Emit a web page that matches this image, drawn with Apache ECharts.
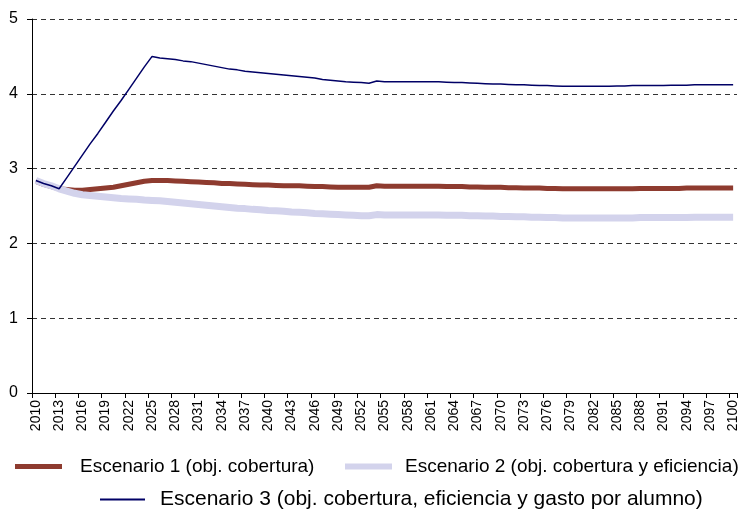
<!DOCTYPE html>
<html><head><meta charset="utf-8">
<script src="https://cdn.jsdelivr.net/npm/echarts@6/dist/echarts.min.js"></script>
<style>html,body{margin:0;padding:0;background:#fff}#c{width:741px;height:510px}</style>
</head><body><div id="c"></div>
<script>
var years = [];
for (var y = 2010; y <= 2100; y++) years.push(String(y));

var seriesNames = [
  'Escenario 1 (obj. cobertura)',
  'Escenario 2 (obj. cobertura y eficiencia)',
  'Escenario 3 (obj. cobertura, eficiencia y gasto por alumno)'
];

var esc1 = [
  2.83,2.79,2.76,2.73,2.72,2.71,2.71,2.72,2.73,2.74,
  2.75,2.77,2.79,2.81,2.83,2.84,2.84,2.84,2.835,2.83,
  2.825,2.82,2.815,2.81,2.80,2.80,2.795,2.79,2.785,2.78,
  2.78,2.775,2.77,2.77,2.77,2.765,2.76,2.76,2.755,2.75,
  2.75,2.75,2.75,2.75,2.77,2.765,2.765,2.765,2.765,2.765,
  2.765,2.765,2.765,2.76,2.76,2.76,2.755,2.755,2.75,2.75,
  2.75,2.745,2.745,2.74,2.74,2.74,2.735,2.735,2.73,2.73,
  2.73,2.73,2.73,2.73,2.73,2.73,2.73,2.73,2.735,2.735,
  2.735,2.735,2.735,2.735,2.74,2.74,2.74,2.74,2.74,2.74,
  2.74
];

var esc2 = [
  2.84,2.80,2.77,2.73,2.70,2.67,2.65,2.64,2.63,2.62,
  2.61,2.60,2.595,2.59,2.58,2.575,2.57,2.56,2.55,2.54,
  2.53,2.52,2.51,2.50,2.49,2.48,2.47,2.465,2.455,2.45,
  2.44,2.435,2.43,2.42,2.415,2.41,2.40,2.395,2.39,2.385,
  2.38,2.375,2.37,2.37,2.385,2.38,2.38,2.38,2.38,2.38,
  2.38,2.38,2.38,2.375,2.375,2.375,2.37,2.37,2.365,2.365,
  2.36,2.36,2.355,2.355,2.35,2.35,2.345,2.345,2.34,2.34,
  2.34,2.34,2.34,2.34,2.34,2.34,2.34,2.34,2.345,2.345,
  2.345,2.345,2.345,2.345,2.345,2.35,2.35,2.35,2.35,2.35,
  2.35
];

var esc3 = [
  2.84,2.80,2.77,2.73,2.88,3.03,3.18,3.33,3.47,3.62,
  3.77,3.91,4.06,4.21,4.36,4.50,4.48,4.47,4.46,4.44,
  4.43,4.41,4.39,4.37,4.35,4.33,4.32,4.30,4.29,4.28,
  4.27,4.26,4.25,4.24,4.23,4.22,4.21,4.19,4.18,4.17,
  4.16,4.155,4.15,4.14,4.17,4.16,4.16,4.16,4.16,4.16,
  4.16,4.16,4.16,4.155,4.15,4.15,4.145,4.14,4.135,4.13,
  4.13,4.125,4.12,4.12,4.115,4.11,4.11,4.105,4.10,4.10,
  4.10,4.10,4.10,4.10,4.10,4.105,4.105,4.11,4.11,4.11,
  4.11,4.11,4.115,4.115,4.115,4.12,4.12,4.12,4.12,4.12,
  4.12
];

var colors = ['#8e3b2f', '#d3d3ec', '#000066'];
var widths = [5, 7, 1.5];
var font = 'Liberation Sans, Arial, sans-serif';

function legend(name, left, top, w, h, color, fs, pad) {
  return {
    data: [{ name: name, icon: 'rect', itemStyle: { color: color } }],
    left: left, top: top,
    itemWidth: w, itemHeight: h,
    textStyle: { fontFamily: font, fontSize: fs, color: '#000', padding: [0, 0, 0, pad] },
    selectedMode: false
  };
}

var chart = echarts.init(document.getElementById('c'), null, { renderer: 'canvas' });
chart.setOption({
  animation: false,
  backgroundColor: '#fff',
  grid: { left: 32, right: 4, top: 19, bottom: 117, containLabel: false },
  legend: [
    legend(seriesNames[0], 10, 452, 47, 5, colors[0], 19, 13),
    legend(seriesNames[1], 340, 452, 47, 6, colors[1], 19, 8),
    legend(seriesNames[2], 95, 484, 45, 2, colors[2], 21, 10)
  ],
  xAxis: {
    type: 'category',
    data: years,
    boundaryGap: true,
    axisLine: { lineStyle: { color: '#000', width: 1 } },
    axisTick: { show: true, interval: 2, length: 5, lineStyle: { color: '#000' } },
    axisLabel: { interval: 2, rotate: 90, fontFamily: font, fontSize: 14, color: '#000', margin: 7 },
    splitLine: { show: false }
  },
  yAxis: {
    type: 'value',
    min: 0, max: 5, interval: 1,
    axisLine: { show: true, lineStyle: { color: '#000', width: 1 } },
    axisTick: { show: true, length: 5, lineStyle: { color: '#000' } },
    axisLabel: { fontFamily: font, fontSize: 16, color: '#000', margin: 14 },
    splitLine: { show: true, lineStyle: { color: '#333', type: [5, 4], width: 1 } }
  },
  series: [
    { name: seriesNames[0], type: 'line', data: esc1, showSymbol: false, symbol: 'none',
      lineStyle: { color: colors[0], width: widths[0] }, itemStyle: { color: colors[0] }, z: 2 },
    { name: seriesNames[1], type: 'line', data: esc2, showSymbol: false, symbol: 'none',
      lineStyle: { color: colors[1], width: widths[1] }, itemStyle: { color: colors[1] }, z: 3 },
    { name: seriesNames[2], type: 'line', data: esc3, showSymbol: false, symbol: 'none',
      lineStyle: { color: colors[2], width: widths[2] }, itemStyle: { color: colors[2] }, z: 4 }
  ]
});
</script>
</body></html>
